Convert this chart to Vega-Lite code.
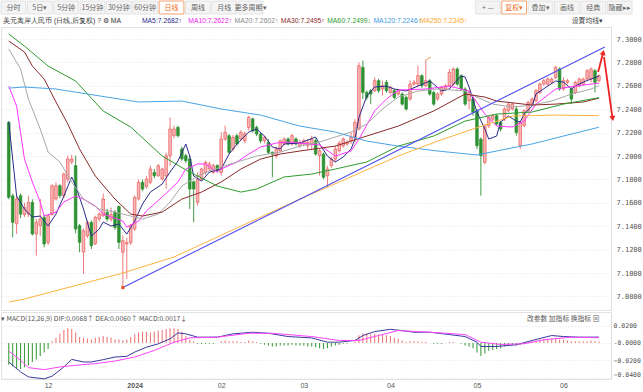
{
"$schema":"https://vega.github.io/schema/vega-lite/v6.json",
"background":"white",
"padding":{"left":0,"top":0,"right":0,"bottom":0},
"spacing":0,
"config":{"view":{"stroke":"#e2e2e2"},"legend":{"disable":true},"title":{"fontWeight":"normal","font":"Noto Sans CJK SC"},"axis":{"labelFont":"DejaVu Sans Mono"}},
"datasets":{
"tb":[{"t":"分时"},{"t":"5日▾"},{"t":"5分钟"},{"t":"15分钟"},{"t":"30分钟"},{"t":"60分钟"},{"t":"日线"},{"t":"周线"},{"t":"月线"},{"t":"更多周期▾"},{"t":"+ —"},{"t":"复权▾"},{"t":"叠加▾"},{"t":"画线"},{"t":"经典"},{"t":"隐藏▸▸"}],
"leg":[{"s":"T","t":"美元离岸人民币 (日线,后复权) ? ⚙ MA"},{"s":"MA5","t":"MA5:7.2682↑"},{"s":"MA10","t":"MA10:7.2622↑"},{"s":"MA20","t":"MA20:7.2602↑"},{"s":"MA30","t":"MA30:7.2495↑"},{"s":"MA60","t":"MA60:7.2499↓"},{"s":"MA120","t":"MA120:7.2246↑"},{"s":"MA250","t":"MA250:7.2345↑"}],
"k":[
{"i":0,"o":7.2288,"h":7.2300,"l":7.1630,"c":7.1647,"m":-0.025},
{"i":1,"o":7.1660,"h":7.1680,"l":7.1305,"c":7.1433,"m":-0.027},
{"i":2,"o":7.1420,"h":7.1661,"l":7.1334,"c":7.1633,"m":-0.029},
{"i":3,"o":7.1661,"h":7.1680,"l":7.1470,"c":7.1504,"m":-0.030},
{"i":4,"o":7.1500,"h":7.1600,"l":7.1480,"c":7.1560,"m":-0.028},
{"i":5,"o":7.1504,"h":7.1661,"l":7.1480,"c":7.1604,"m":-0.026},
{"i":6,"o":7.1604,"h":7.1630,"l":7.1320,"c":7.1334,"m":-0.022},
{"i":7,"o":7.1334,"h":7.1462,"l":7.1148,"c":7.1433,"m":-0.019},
{"i":8,"o":7.1405,"h":7.1633,"l":7.1319,"c":7.1462,"m":-0.015},
{"i":9,"o":7.1476,"h":7.1500,"l":7.1220,"c":7.1248,"m":-0.011},
{"i":10,"o":7.1260,"h":7.1500,"l":7.1240,"c":7.1490,"m":-0.007},
{"i":11,"o":7.1500,"h":7.1760,"l":7.1490,"c":7.1746,"m":0.002},
{"i":12,"o":7.1633,"h":7.1775,"l":7.1620,"c":7.1746,"m":0.006},
{"i":13,"o":7.1746,"h":7.1760,"l":7.1640,"c":7.1661,"m":0.011},
{"i":14,"o":7.1661,"h":7.1860,"l":7.1640,"c":7.1846,"m":0.015},
{"i":15,"o":7.1803,"h":7.2003,"l":7.1775,"c":7.1975,"m":0.017},
{"i":16,"o":7.1950,"h":7.2010,"l":7.1930,"c":7.1975,"m":0.016},
{"i":17,"o":7.1918,"h":7.2003,"l":7.1340,"c":7.1376,"m":0.012},
{"i":18,"o":7.1405,"h":7.1420,"l":7.1177,"c":7.1262,"m":0.007},
{"i":19,"o":7.1180,"h":7.1380,"l":7.0992,"c":7.1362,"m":0.006},
{"i":20,"o":7.1319,"h":7.1450,"l":7.1300,"c":7.1433,"m":0.005},
{"i":21,"o":7.1433,"h":7.1450,"l":7.1205,"c":7.1234,"m":0.004},
{"i":22,"o":7.1250,"h":7.1490,"l":7.1240,"c":7.1476,"m":0.006},
{"i":23,"o":7.1462,"h":7.1520,"l":7.1440,"c":7.1504,"m":0.007},
{"i":24,"o":7.1490,"h":7.1680,"l":7.1480,"c":7.1633,"m":0.008},
{"i":25,"o":7.1519,"h":7.1550,"l":7.1440,"c":7.1462,"m":0.007},
{"i":26,"o":7.1460,"h":7.1560,"l":7.1440,"c":7.1500,"m":0.006},
{"i":27,"o":7.1519,"h":7.1540,"l":7.1370,"c":7.1390,"m":0.004},
{"i":28,"o":7.1570,"h":7.1575,"l":7.1205,"c":7.1262,"m":0.004},
{"i":29,"o":7.1177,"h":7.1320,"l":7.0876,"c":7.1277,"m":0.003},
{"i":30,"o":7.1248,"h":7.1300,"l":7.0950,"c":7.1262,"m":0.004},
{"i":31,"o":7.1262,"h":7.1420,"l":7.1240,"c":7.1405,"m":0.007},
{"i":32,"o":7.1376,"h":7.1661,"l":7.1360,"c":7.1646,"m":0.010},
{"i":33,"o":7.1633,"h":7.1800,"l":7.1620,"c":7.1775,"m":0.012},
{"i":34,"o":7.1775,"h":7.1800,"l":7.1700,"c":7.1718,"m":0.013},
{"i":35,"o":7.1740,"h":7.1830,"l":7.1720,"c":7.1803,"m":0.013},
{"i":36,"o":7.1775,"h":7.1918,"l":7.1760,"c":7.1889,"m":0.012},
{"i":37,"o":7.1860,"h":7.1890,"l":7.1810,"c":7.1832,"m":0.013},
{"i":38,"o":7.1832,"h":7.1930,"l":7.1820,"c":7.1918,"m":0.014},
{"i":39,"o":7.1803,"h":7.1900,"l":7.1790,"c":7.1889,"m":0.015},
{"i":40,"o":7.1830,"h":7.2030,"l":7.1720,"c":7.2003,"m":0.016},
{"i":41,"o":7.2003,"h":7.2330,"l":7.1918,"c":7.2231,"m":0.017},
{"i":42,"o":7.2174,"h":7.2260,"l":7.2150,"c":7.2231,"m":0.017},
{"i":43,"o":7.2245,"h":7.2260,"l":7.2160,"c":7.2174,"m":0.016},
{"i":44,"o":7.2060,"h":7.2080,"l":7.1960,"c":7.1975,"m":0.013},
{"i":45,"o":7.2003,"h":7.2020,"l":7.1940,"c":7.1960,"m":0.008},
{"i":46,"o":7.1975,"h":7.2003,"l":7.1547,"c":7.1718,"m":0.004},
{"i":47,"o":7.1780,"h":7.1790,"l":7.1433,"c":7.1718,"m":0.002},
{"i":48,"o":7.1604,"h":7.1860,"l":7.1575,"c":7.1803,"m":-0.001},
{"i":49,"o":7.1803,"h":7.1900,"l":7.1790,"c":7.1889,"m":-0.001},
{"i":50,"o":7.1860,"h":7.1960,"l":7.1840,"c":7.1946,"m":-0.001},
{"i":51,"o":7.1889,"h":7.1950,"l":7.1870,"c":7.1932,"m":-0.001},
{"i":52,"o":7.1860,"h":7.1935,"l":7.1850,"c":7.1918,"m":-0.001},
{"i":53,"o":7.1918,"h":7.1930,"l":7.1860,"c":7.1880,"m":0.0},
{"i":54,"o":7.1860,"h":7.2203,"l":7.1832,"c":7.2146,"m":0.002},
{"i":55,"o":7.2146,"h":7.2260,"l":7.2130,"c":7.2203,"m":0.003},
{"i":56,"o":7.2174,"h":7.2190,"l":7.2020,"c":7.2031,"m":0.002},
{"i":57,"o":7.2060,"h":7.2180,"l":7.2040,"c":7.2160,"m":0.002},
{"i":58,"o":7.2174,"h":7.2190,"l":7.2090,"c":7.2103,"m":0.002},
{"i":59,"o":7.2146,"h":7.2220,"l":7.2130,"c":7.2203,"m":0.001},
{"i":60,"o":7.2130,"h":7.2210,"l":7.2110,"c":7.2190,"m":0.001},
{"i":61,"o":7.2245,"h":7.2345,"l":7.2217,"c":7.2330,"m":0.003},
{"i":62,"o":7.2317,"h":7.2330,"l":7.2200,"c":7.2217,"m":0.002},
{"i":63,"o":7.2245,"h":7.2260,"l":7.2170,"c":7.2188,"m":0.001},
{"i":64,"o":7.2188,"h":7.2200,"l":7.2110,"c":7.2130,"m":-0.001},
{"i":65,"o":7.2130,"h":7.2175,"l":7.2110,"c":7.2160,"m":-0.002},
{"i":66,"o":7.2117,"h":7.2146,"l":7.2017,"c":7.2031,"m":-0.003},
{"i":67,"o":7.2031,"h":7.2040,"l":7.1818,"c":7.2017,"m":-0.004},
{"i":68,"o":7.2003,"h":7.2080,"l":7.1980,"c":7.2060,"m":-0.004},
{"i":69,"o":7.2045,"h":7.2140,"l":7.2030,"c":7.2130,"m":-0.003},
{"i":70,"o":7.2103,"h":7.2160,"l":7.2090,"c":7.2146,"m":-0.003},
{"i":71,"o":7.2146,"h":7.2160,"l":7.2090,"c":7.2103,"m":-0.003},
{"i":72,"o":7.2103,"h":7.2190,"l":7.2090,"c":7.2174,"m":-0.002},
{"i":73,"o":7.2146,"h":7.2160,"l":7.2090,"c":7.2103,"m":-0.003},
{"i":74,"o":7.2088,"h":7.2140,"l":7.2070,"c":7.2117,"m":-0.003},
{"i":75,"o":7.2103,"h":7.2150,"l":7.2088,"c":7.2130,"m":-0.003},
{"i":76,"o":7.2088,"h":7.2145,"l":7.2060,"c":7.2117,"m":-0.004},
{"i":77,"o":7.2103,"h":7.2174,"l":7.2060,"c":7.2145,"m":-0.004},
{"i":78,"o":7.2131,"h":7.2150,"l":7.2003,"c":7.2017,"m":-0.005},
{"i":79,"o":7.2003,"h":7.2060,"l":7.1832,"c":7.2046,"m":-0.006},
{"i":80,"o":7.2017,"h":7.2030,"l":7.1803,"c":7.1818,"m":-0.007},
{"i":81,"o":7.1832,"h":7.1917,"l":7.1732,"c":7.1889,"m":-0.006},
{"i":82,"o":7.1917,"h":7.1990,"l":7.1900,"c":7.1974,"m":-0.004},
{"i":83,"o":7.1974,"h":7.2088,"l":7.1946,"c":7.2060,"m":-0.003},
{"i":84,"o":7.2046,"h":7.2130,"l":7.2030,"c":7.2110,"m":-0.002},
{"i":85,"o":7.2088,"h":7.2160,"l":7.2070,"c":7.2145,"m":-0.001},
{"i":86,"o":7.2103,"h":7.2135,"l":7.2088,"c":7.2117,"m":-0.001},
{"i":87,"o":7.2131,"h":7.2203,"l":7.2103,"c":7.2160,"m":0.0},
{"i":88,"o":7.2160,"h":7.2316,"l":7.2117,"c":7.2288,"m":0.002},
{"i":89,"o":7.2231,"h":7.2800,"l":7.2217,"c":7.2772,"m":0.009},
{"i":90,"o":7.2758,"h":7.2815,"l":7.2487,"c":7.2544,"m":0.011},
{"i":91,"o":7.2544,"h":7.2560,"l":7.2480,"c":7.2501,"m":0.011},
{"i":92,"o":7.2558,"h":7.2573,"l":7.2444,"c":7.2530,"m":0.010},
{"i":93,"o":7.2558,"h":7.2672,"l":7.2544,"c":7.2644,"m":0.011},
{"i":94,"o":7.2644,"h":7.2660,"l":7.2540,"c":7.2558,"m":0.010},
{"i":95,"o":7.2573,"h":7.2644,"l":7.2516,"c":7.2601,"m":0.010},
{"i":96,"o":7.2630,"h":7.2650,"l":7.2540,"c":7.2558,"m":0.009},
{"i":97,"o":7.2544,"h":7.2600,"l":7.2530,"c":7.2587,"m":0.008},
{"i":98,"o":7.2558,"h":7.2573,"l":7.2487,"c":7.2501,"m":0.006},
{"i":99,"o":7.2530,"h":7.2573,"l":7.2516,"c":7.2558,"m":0.005},
{"i":100,"o":7.2530,"h":7.2545,"l":7.2430,"c":7.2444,"m":0.003},
{"i":101,"o":7.2501,"h":7.2516,"l":7.2388,"c":7.2402,"m":0.001},
{"i":102,"o":7.2487,"h":7.2644,"l":7.2473,"c":7.2615,"m":0.002},
{"i":103,"o":7.2615,"h":7.2650,"l":7.2600,"c":7.2630,"m":0.002},
{"i":104,"o":7.2615,"h":7.2772,"l":7.2587,"c":7.2687,"m":0.002},
{"i":105,"o":7.2687,"h":7.2700,"l":7.2580,"c":7.2601,"m":0.001},
{"i":106,"o":7.2601,"h":7.2821,"l":7.2587,"c":7.2644,"m":0.001},
{"i":107,"o":7.2644,"h":7.2658,"l":7.2516,"c":7.2530,"m":0.0},
{"i":108,"o":7.2544,"h":7.2558,"l":7.2430,"c":7.2444,"m":-0.001},
{"i":109,"o":7.2487,"h":7.2544,"l":7.2473,"c":7.2530,"m":-0.001},
{"i":110,"o":7.2530,"h":7.2601,"l":7.2516,"c":7.2587,"m":-0.001},
{"i":111,"o":7.2573,"h":7.2615,"l":7.2558,"c":7.2601,"m":0.0},
{"i":112,"o":7.2601,"h":7.2744,"l":7.2587,"c":7.2715,"m":0.001},
{"i":113,"o":7.2615,"h":7.2758,"l":7.2601,"c":7.2744,"m":0.001},
{"i":114,"o":7.2744,"h":7.2758,"l":7.2600,"c":7.2615,"m":0.0},
{"i":115,"o":7.2687,"h":7.2700,"l":7.2558,"c":7.2573,"m":-0.001},
{"i":116,"o":7.2573,"h":7.2587,"l":7.2430,"c":7.2444,"m":-0.003},
{"i":117,"o":7.2473,"h":7.2558,"l":7.2402,"c":7.2544,"m":-0.004},
{"i":118,"o":7.2487,"h":7.2500,"l":7.2345,"c":7.2373,"m":-0.006},
{"i":119,"o":7.2388,"h":7.2402,"l":7.2060,"c":7.2088,"m":-0.011},
{"i":120,"o":7.2145,"h":7.2160,"l":7.1661,"c":7.2003,"m":-0.015},
{"i":121,"o":7.1946,"h":7.2274,"l":7.1930,"c":7.2259,"m":-0.012},
{"i":122,"o":7.2259,"h":7.2345,"l":7.2240,"c":7.2331,"m":-0.009},
{"i":123,"o":7.2316,"h":7.2360,"l":7.2300,"c":7.2345,"m":-0.008},
{"i":124,"o":7.2345,"h":7.2360,"l":7.2260,"c":7.2274,"m":-0.007},
{"i":125,"o":7.2288,"h":7.2300,"l":7.2210,"c":7.2231,"m":-0.006},
{"i":126,"o":7.2316,"h":7.2416,"l":7.2300,"c":7.2402,"m":-0.004},
{"i":127,"o":7.2388,"h":7.2460,"l":7.2373,"c":7.2444,"m":-0.003},
{"i":128,"o":7.2402,"h":7.2458,"l":7.2388,"c":7.2444,"m":-0.002},
{"i":129,"o":7.2402,"h":7.2430,"l":7.2174,"c":7.2202,"m":-0.003},
{"i":130,"o":7.2088,"h":7.2302,"l":7.2060,"c":7.2288,"m":-0.002},
{"i":131,"o":7.2259,"h":7.2400,"l":7.2245,"c":7.2388,"m":-0.001},
{"i":132,"o":7.2388,"h":7.2473,"l":7.2373,"c":7.2458,"m":0.001},
{"i":133,"o":7.2444,"h":7.2501,"l":7.2430,"c":7.2487,"m":0.002},
{"i":134,"o":7.2473,"h":7.2573,"l":7.2458,"c":7.2558,"m":0.003},
{"i":135,"o":7.2544,"h":7.2630,"l":7.2530,"c":7.2615,"m":0.004},
{"i":136,"o":7.2615,"h":7.2660,"l":7.2600,"c":7.2644,"m":0.005},
{"i":137,"o":7.2615,"h":7.2672,"l":7.2601,"c":7.2658,"m":0.005},
{"i":138,"o":7.2630,"h":7.2672,"l":7.2615,"c":7.2658,"m":0.005},
{"i":139,"o":7.2672,"h":7.2772,"l":7.2658,"c":7.2758,"m":0.006},
{"i":140,"o":7.2744,"h":7.2758,"l":7.2558,"c":7.2573,"m":0.004},
{"i":141,"o":7.2573,"h":7.2672,"l":7.2558,"c":7.2644,"m":0.004},
{"i":142,"o":7.2630,"h":7.2660,"l":7.2615,"c":7.2644,"m":0.003},
{"i":143,"o":7.2573,"h":7.2587,"l":7.2444,"c":7.2487,"m":0.002},
{"i":144,"o":7.2544,"h":7.2644,"l":7.2530,"c":7.2630,"m":0.002},
{"i":145,"o":7.2601,"h":7.2672,"l":7.2587,"c":7.2658,"m":0.002},
{"i":146,"o":7.2615,"h":7.2672,"l":7.2600,"c":7.2658,"m":0.002},
{"i":147,"o":7.2658,"h":7.2744,"l":7.2644,"c":7.2729,"m":0.002},
{"i":148,"o":7.2658,"h":7.2758,"l":7.2630,"c":7.2744,"m":0.003},
{"i":149,"o":7.2729,"h":7.2744,"l":7.2544,"c":7.2630,"m":0.002},
{"i":150,"o":7.2644,"h":7.2700,"l":7.2630,"c":7.2687,"m":0.0017}
],
"ma":[
{"s":"MA5","i":0,"v":7.2291},{"s":"MA5","i":2,"v":7.1658},{"s":"MA5","i":4,"v":7.1547},{"s":"MA5","i":6,"v":7.1479},{"s":"MA5","i":8,"v":7.1487},{"s":"MA5","i":10,"v":7.1402},{"s":"MA5","i":12,"v":7.1504},{"s":"MA5","i":14,"v":7.1658},{"s":"MA5","i":16,"v":7.1821},{"s":"MA5","i":17,"v":7.1744},{"s":"MA5","i":19,"v":7.1547},{"s":"MA5","i":21,"v":7.1316},{"s":"MA5","i":23,"v":7.1376},{"s":"MA5","i":24,"v":7.1436},{"s":"MA5","i":26,"v":7.1402},{"s":"MA5","i":28,"v":7.1419},{"s":"MA5","i":30,"v":7.1333},{"s":"MA5","i":32,"v":7.1444},{"s":"MA5","i":34,"v":7.159},{"s":"MA5","i":36,"v":7.1692},{"s":"MA5","i":39,"v":7.1761},{"s":"MA5","i":41,"v":7.1863},{"s":"MA5","i":43,"v":7.1957},{"s":"MA5","i":45,"v":7.2103},{"s":"MA5","i":46,"v":7.2},{"s":"MA5","i":47,"v":7.1829},{"s":"MA5","i":49,"v":7.1786},{"s":"MA5","i":51,"v":7.1863},{"s":"MA5","i":54,"v":7.1889},{"s":"MA5","i":56,"v":7.2017},{"s":"MA5","i":58,"v":7.2103},{"s":"MA5","i":61,"v":7.2205},{"s":"MA5","i":63,"v":7.2231},{"s":"MA5","i":65,"v":7.2171},{"s":"MA5","i":67,"v":7.2077},{"s":"MA5","i":69,"v":7.206},{"s":"MA5","i":70,"v":7.2103},{"s":"MA5","i":74,"v":7.2111},{"s":"MA5","i":78,"v":7.2162},{"s":"MA5","i":79,"v":7.2103},{"s":"MA5","i":81,"v":7.2},{"s":"MA5","i":83,"v":7.1949},{"s":"MA5","i":85,"v":7.1991},{"s":"MA5","i":87,"v":7.206},{"s":"MA5","i":88,"v":7.2145},{"s":"MA5","i":89,"v":7.233},{"s":"MA5","i":91,"v":7.2513},{"s":"MA5","i":93,"v":7.259},{"s":"MA5","i":96,"v":7.2598},{"s":"MA5","i":98,"v":7.2573},{"s":"MA5","i":101,"v":7.2556},{"s":"MA5","i":104,"v":7.2598},{"s":"MA5","i":107,"v":7.2641},{"s":"MA5","i":108,"v":7.2615},{"s":"MA5","i":110,"v":7.2556},{"s":"MA5","i":112,"v":7.2573},{"s":"MA5","i":113,"v":7.2615},{"s":"MA5","i":115,"v":7.2684},{"s":"MA5","i":116,"v":7.2675},{"s":"MA5","i":117,"v":7.259},{"s":"MA5","i":119,"v":7.2376},{"s":"MA5","i":121,"v":7.2231},{"s":"MA5","i":122,"v":7.2145},{"s":"MA5","i":124,"v":7.2171},{"s":"MA5","i":125,"v":7.2291},{"s":"MA5","i":127,"v":7.2342},{"s":"MA5","i":129,"v":7.2299},{"s":"MA5","i":130,"v":7.2291},{"s":"MA5","i":131,"v":7.2359},{"s":"MA5","i":133,"v":7.2427},{"s":"MA5","i":134,"v":7.253},{"s":"MA5","i":137,"v":7.2598},{"s":"MA5","i":139,"v":7.2641},{"s":"MA5","i":141,"v":7.2632},{"s":"MA5","i":143,"v":7.2573},{"s":"MA5","i":144,"v":7.2598},{"s":"MA5","i":146,"v":7.2632},{"s":"MA5","i":148,"v":7.2658},{"s":"MA5","i":150,"v":7.2682},
{"s":"MA10","i":0,"v":7.2598},{"s":"MA10","i":2,"v":7.2427},{"s":"MA10","i":4,"v":7.1974},{"s":"MA10","i":6,"v":7.1778},{"s":"MA10","i":8,"v":7.1607},{"s":"MA10","i":9,"v":7.1487},{"s":"MA10","i":12,"v":7.1521},{"s":"MA10","i":14,"v":7.1607},{"s":"MA10","i":17,"v":7.1658},{"s":"MA10","i":19,"v":7.1632},{"s":"MA10","i":22,"v":7.1573},{"s":"MA10","i":24,"v":7.1504},{"s":"MA10","i":29,"v":7.1444},{"s":"MA10","i":30,"v":7.1393},{"s":"MA10","i":33,"v":7.1444},{"s":"MA10","i":35,"v":7.153},{"s":"MA10","i":39,"v":7.165},{"s":"MA10","i":43,"v":7.1778},{"s":"MA10","i":45,"v":7.1889},{"s":"MA10","i":48,"v":7.1932},{"s":"MA10","i":50,"v":7.1932},{"s":"MA10","i":53,"v":7.1863},{"s":"MA10","i":54,"v":7.1889},{"s":"MA10","i":58,"v":7.1949},{"s":"MA10","i":61,"v":7.2017},{"s":"MA10","i":64,"v":7.2077},{"s":"MA10","i":68,"v":7.2111},{"s":"MA10","i":71,"v":7.212},{"s":"MA10","i":74,"v":7.2111},{"s":"MA10","i":79,"v":7.2094},{"s":"MA10","i":83,"v":7.2},{"s":"MA10","i":87,"v":7.2043},{"s":"MA10","i":89,"v":7.2145},{"s":"MA10","i":93,"v":7.2385},{"s":"MA10","i":96,"v":7.2487},{"s":"MA10","i":99,"v":7.2564},{"s":"MA10","i":106,"v":7.2573},{"s":"MA10","i":112,"v":7.2598},{"s":"MA10","i":117,"v":7.2556},{"s":"MA10","i":121,"v":7.2359},{"s":"MA10","i":124,"v":7.2256},{"s":"MA10","i":128,"v":7.2248},{"s":"MA10","i":131,"v":7.2299},{"s":"MA10","i":134,"v":7.2444},{"s":"MA10","i":139,"v":7.2573},{"s":"MA10","i":146,"v":7.2607},{"s":"MA10","i":150,"v":7.2622},
{"s":"MA20","i":0,"v":7.2915},{"s":"MA20","i":3,"v":7.2744},{"s":"MA20","i":5,"v":7.2487},{"s":"MA20","i":8,"v":7.2231},{"s":"MA20","i":10,"v":7.2034},{"s":"MA20","i":13,"v":7.1949},{"s":"MA20","i":16,"v":7.1778},{"s":"MA20","i":19,"v":7.1632},{"s":"MA20","i":23,"v":7.1547},{"s":"MA20","i":27,"v":7.1521},{"s":"MA20","i":31,"v":7.1487},{"s":"MA20","i":34,"v":7.1462},{"s":"MA20","i":38,"v":7.1504},{"s":"MA20","i":41,"v":7.1607},{"s":"MA20","i":44,"v":7.1744},{"s":"MA20","i":48,"v":7.1829},{"s":"MA20","i":51,"v":7.1872},{"s":"MA20","i":54,"v":7.1906},{"s":"MA20","i":58,"v":7.1949},{"s":"MA20","i":63,"v":7.2},{"s":"MA20","i":69,"v":7.2034},{"s":"MA20","i":74,"v":7.2085},{"s":"MA20","i":79,"v":7.212},{"s":"MA20","i":87,"v":7.2205},{"s":"MA20","i":91,"v":7.2274},{"s":"MA20","i":95,"v":7.2402},{"s":"MA20","i":99,"v":7.2504},{"s":"MA20","i":104,"v":7.2556},{"s":"MA20","i":109,"v":7.2573},{"s":"MA20","i":116,"v":7.2556},{"s":"MA20","i":119,"v":7.2504},{"s":"MA20","i":123,"v":7.2444},{"s":"MA20","i":128,"v":7.2419},{"s":"MA20","i":133,"v":7.2436},{"s":"MA20","i":138,"v":7.247},{"s":"MA20","i":143,"v":7.253},{"s":"MA20","i":148,"v":7.2573},{"s":"MA20","i":150,"v":7.2602},
{"s":"MA30","i":0,"v":7.2983},{"s":"MA30","i":4,"v":7.2889},{"s":"MA30","i":6,"v":7.2769},{"s":"MA30","i":9,"v":7.2658},{"s":"MA30","i":12,"v":7.2462},{"s":"MA30","i":15,"v":7.2274},{"s":"MA30","i":18,"v":7.206},{"s":"MA30","i":22,"v":7.1829},{"s":"MA30","i":27,"v":7.1632},{"s":"MA30","i":31,"v":7.1504},{"s":"MA30","i":34,"v":7.1487},{"s":"MA30","i":39,"v":7.1521},{"s":"MA30","i":44,"v":7.1632},{"s":"MA30","i":49,"v":7.1692},{"s":"MA30","i":54,"v":7.1778},{"s":"MA30","i":59,"v":7.1889},{"s":"MA30","i":64,"v":7.1974},{"s":"MA30","i":69,"v":7.2017},{"s":"MA30","i":74,"v":7.2043},{"s":"MA30","i":83,"v":7.2085},{"s":"MA30","i":91,"v":7.2171},{"s":"MA30","i":99,"v":7.2256},{"s":"MA30","i":108,"v":7.2385},{"s":"MA30","i":116,"v":7.253},{"s":"MA30","i":121,"v":7.2504},{"s":"MA30","i":124,"v":7.247},{"s":"MA30","i":133,"v":7.2436},{"s":"MA30","i":139,"v":7.2444},{"s":"MA30","i":146,"v":7.2462},{"s":"MA30","i":150,"v":7.2495},
{"s":"MA60","i":0,"v":7.3043},{"s":"MA60","i":4,"v":7.294},{"s":"MA60","i":10,"v":7.2769},{"s":"MA60","i":17,"v":7.2641},{"s":"MA60","i":24,"v":7.2385},{"s":"MA60","i":31,"v":7.2248},{"s":"MA60","i":39,"v":7.2},{"s":"MA60","i":46,"v":7.1863},{"s":"MA60","i":53,"v":7.1744},{"s":"MA60","i":59,"v":7.1692},{"s":"MA60","i":63,"v":7.1718},{"s":"MA60","i":70,"v":7.1821},{"s":"MA60","i":77,"v":7.1846},{"s":"MA60","i":83,"v":7.1889},{"s":"MA60","i":91,"v":7.1949},{"s":"MA60","i":99,"v":7.2085},{"s":"MA60","i":108,"v":7.2171},{"s":"MA60","i":116,"v":7.2299},{"s":"MA60","i":124,"v":7.2359},{"s":"MA60","i":133,"v":7.2376},{"s":"MA60","i":141,"v":7.2444},{"s":"MA60","i":150,"v":7.2499},
{"s":"MA120","i":0,"v":7.2581},{"s":"MA120","i":4,"v":7.259},{"s":"MA120","i":12,"v":7.2573},{"s":"MA120","i":20,"v":7.253},{"s":"MA120","i":33,"v":7.2462},{"s":"MA120","i":44,"v":7.247},{"s":"MA120","i":54,"v":7.2402},{"s":"MA120","i":64,"v":7.235},{"s":"MA120","i":74,"v":7.2256},{"s":"MA120","i":83,"v":7.2205},{"s":"MA120","i":91,"v":7.2128},{"s":"MA120","i":99,"v":7.2085},{"s":"MA120","i":109,"v":7.2043},{"s":"MA120","i":119,"v":7.2009},{"s":"MA120","i":124,"v":7.2043},{"s":"MA120","i":133,"v":7.2103},{"s":"MA120","i":141,"v":7.2171},{"s":"MA120","i":150,"v":7.2246},
{"s":"MA250","i":0,"v":7.0752},{"s":"MA250","i":4,"v":7.0778},{"s":"MA250","i":29,"v":7.1},{"s":"MA250","i":42,"v":7.1137},{"s":"MA250","i":58,"v":7.1385},{"s":"MA250","i":74,"v":7.1632},{"s":"MA250","i":84,"v":7.1778},{"s":"MA250","i":99,"v":7.2},{"s":"MA250","i":109,"v":7.2128},{"s":"MA250","i":118,"v":7.2231},{"s":"MA250","i":128,"v":7.2342},{"s":"MA250","i":139,"v":7.235},{"s":"MA250","i":150,"v":7.2345}
],
"md":[
{"s":"DIF","i":0,"v":-0.0219},{"s":"DIF","i":3,"v":-0.0333},{"s":"DIF","i":5,"v":-0.0391},{"s":"DIF","i":9,"v":-0.0413},{"s":"DIF","i":11,"v":-0.0383},{"s":"DIF","i":14,"v":-0.0276},{"s":"DIF","i":16,"v":-0.0189},{"s":"DIF","i":19,"v":-0.0219},{"s":"DIF","i":21,"v":-0.0219},{"s":"DIF","i":24,"v":-0.0192},{"s":"DIF","i":27,"v":-0.0162},{"s":"DIF","i":30,"v":-0.0154},{"s":"DIF","i":32,"v":-0.0105},{"s":"DIF","i":35,"v":-0.0048},{"s":"DIF","i":38,"v":-0.001},{"s":"DIF","i":41,"v":0.0048},{"s":"DIF","i":43,"v":0.0116},{"s":"DIF","i":45,"v":0.0105},{"s":"DIF","i":48,"v":0.0067},{"s":"DIF","i":53,"v":0.0067},{"s":"DIF","i":57,"v":0.0105},{"s":"DIF","i":62,"v":0.0124},{"s":"DIF","i":66,"v":0.0112},{"s":"DIF","i":71,"v":0.0074},{"s":"DIF","i":77,"v":0.0059},{"s":"DIF","i":81,"v":0.0009},{"s":"DIF","i":84,"v":0.0009},{"s":"DIF","i":88,"v":0.0029},{"s":"DIF","i":90,"v":0.0086},{"s":"DIF","i":93,"v":0.0131},{"s":"DIF","i":97,"v":0.0158},{"s":"DIF","i":100,"v":0.0143},{"s":"DIF","i":103,"v":0.0124},{"s":"DIF","i":107,"v":0.0124},{"s":"DIF","i":112,"v":0.0097},{"s":"DIF","i":116,"v":0.0074},{"s":"DIF","i":119,"v":0.0009},{"s":"DIF","i":120,"v":-0.004},{"s":"DIF","i":124,"v":-0.004},{"s":"DIF","i":129,"v":-0.0021},{"s":"DIF","i":133,"v":0.0029},{"s":"DIF","i":138,"v":0.0086},{"s":"DIF","i":141,"v":0.0074},{"s":"DIF","i":145,"v":0.0067},{"s":"DIF","i":150,"v":0.0068},
{"s":"DEA","i":0,"v":-0.0093},{"s":"DEA","i":3,"v":-0.02},{"s":"DEA","i":5,"v":-0.0284},{"s":"DEA","i":9,"v":-0.0307},{"s":"DEA","i":13,"v":-0.0276},{"s":"DEA","i":17,"v":-0.0257},{"s":"DEA","i":22,"v":-0.0238},{"s":"DEA","i":27,"v":-0.0208},{"s":"DEA","i":32,"v":-0.0162},{"s":"DEA","i":37,"v":-0.0086},{"s":"DEA","i":42,"v":0.0009},{"s":"DEA","i":46,"v":0.0059},{"s":"DEA","i":53,"v":0.0067},{"s":"DEA","i":61,"v":0.0112},{"s":"DEA","i":67,"v":0.0112},{"s":"DEA","i":77,"v":0.0074},{"s":"DEA","i":84,"v":0.0029},{"s":"DEA","i":89,"v":0.0029},{"s":"DEA","i":94,"v":0.0086},{"s":"DEA","i":99,"v":0.0143},{"s":"DEA","i":107,"v":0.0124},{"s":"DEA","i":116,"v":0.0097},{"s":"DEA","i":120,"v":0.0009},{"s":"DEA","i":125,"v":-0.0017},{"s":"DEA","i":131,"v":-0.0009},{"s":"DEA","i":136,"v":0.0037},{"s":"DEA","i":143,"v":0.0067},{"s":"DEA","i":150,"v":0.006}
]
},
"vconcat":[
{
"width":631,"height":13,"view":{"stroke":null},
"data":{"name":"tb"},
"encoding":{"x":{"field":"t","type":"nominal","scale":{"type":"band","domain":["分时","5日▾","5分钟","15分钟","30分钟","60分钟","日线","周线","月线","更多周期▾","d1","d2","d3","d4","d5","d6","d7","d8","+ —","复权▾","叠加▾","画线","经典","隐藏▸▸"],"paddingInner":0.06,"paddingOuter":0},"axis":null}},
"layer":[
{"mark":{"type":"rect","strokeWidth":0.8},
"encoding":{"fill":{"condition":{"test":"datum.t==='日线'||datum.t==='复权▾'","value":"#ffffff"},"value":"#f4f4f4"},
"stroke":{"condition":{"test":"datum.t==='日线'||datum.t==='复权▾'","value":"#f08a4b"},"value":"#dddddd"}}},
{"mark":{"type":"text","fontSize":7,"font":"Noto Sans CJK SC"},
"encoding":{"text":{"field":"t"},"color":{"condition":{"test":"datum.t==='日线'||datum.t==='复权▾'","value":"#f06a20"},"value":"#666666"}}}
]
},
{
"width":602,"height":11,"view":{"stroke":null},
"layer":[
{"data":{"name":"leg"},
"mark":{"type":"text","align":"left","baseline":"middle","fontSize":6.8,"font":"Liberation Sans","dx":2},
"encoding":{"x":{"field":"s","type":"nominal","bandPosition":0,"scale":{"type":"band","domain":["T","e1","e2","MA5","MA10","MA20","MA30","MA60","MA120","MA250","e3","e4","set"],"paddingInner":0,"paddingOuter":0},"axis":null},
"text":{"field":"t"},
"fill":{"field":"s","type":"nominal","scale":{"domain":["T","MA5","MA10","MA20","MA30","MA60","MA120","MA250"],"range":["#333333","#2b2b8c","#ee22ee","#888888","#8b2a2a","#2e9b2e","#3b9ae1","#ffa82e"]},"legend":null}}},
{"data":{"values":[{"s":"set","t":"设置均线▾"}]},
"mark":{"type":"text","align":"right","baseline":"middle","fontSize":6.8,"font":"Noto Sans CJK SC","color":"#444444"},
"encoding":{"x":{"field":"s","type":"nominal","bandPosition":1,"axis":null},"text":{"field":"t"}}}
]
},
{
"width":610,"height":283,
"resolve":{"axis":{"x":"independent","y":"independent"}},
"layer":[
{"data":{"name":"k"},
"mark":{"type":"rule","strokeWidth":0.9},
"encoding":{"x":{"field":"i","type":"quantitative","scale":{"domain":[-0.7,151.8],"nice":false,"zero":false},"axis":null},
"y":{"field":"l","type":"quantitative","scale":{"domain":[7.0684,7.3103],"nice":false,"zero":false},
"axis":{"orient":"right","values":[7.08,7.1,7.12,7.14,7.16,7.18,7.2,7.22,7.24,7.26,7.28,7.3],"format":".4f","title":null,"ticks":false,"labelOverlap":false,"domainColor":"#dddddd","labelColor":"#555555","labelFontSize":7,"labelPadding":5,"grid":true,"gridColor":"#e4e4e4","gridDash":[1,2]}},
"y2":{"field":"h"},
"color":{"condition":{"test":"datum.c >= datum.o","value":"#ec6b6b"},"value":"#2e9132"}}},
{"data":{"name":"k"},
"mark":{"type":"bar","size":2.6,"strokeWidth":0.7},
"encoding":{"x":{"field":"i","type":"quantitative","axis":null},
"y":{"field":"o","type":"quantitative","axis":null},
"y2":{"field":"c"},
"fill":{"condition":{"test":"datum.c >= datum.o","value":"#f8b7b7"},"value":"#2e9132"},
"stroke":{"condition":{"test":"datum.c >= datum.o","value":"#ea5a5a"},"value":"#2e9132"}}},
{"data":{"name":"ma"},
"mark":{"type":"line","strokeWidth":1,"clip":true},
"encoding":{"x":{"field":"i","type":"quantitative","axis":null},
"y":{"field":"v","type":"quantitative","axis":null},
"color":{"field":"s","type":"nominal","scale":{"domain":["MA5","MA10","MA20","MA30","MA60","MA120","MA250"],"range":["#2b2b8c","#ff33ff","#a8a8a8","#8b2a2a","#2e9b2e","#4aa3e6","#ffb23f"]},"legend":null}}},
{"mark":{"type":"rule","color":"#4b3fd0","strokeWidth":1.2},
"encoding":{"y":{"datum":7.2351,"type":"quantitative","axis":null}}},
{"mark":{"type":"text","align":"left","baseline":"bottom","dy":-1,"fontSize":7,"font":"DejaVu Sans Mono","color":"#4b3fd0"},
"encoding":{"x":{"datum":1.2,"type":"quantitative","axis":null},"y":{"datum":7.2351,"type":"quantitative","axis":null},"text":{"value":"7.2351"}}},
{"data":{"values":[{"i":29,"v":7.0876},{"i":151.5,"v":7.2932}]},
"mark":{"type":"line","color":"#5050ee","strokeWidth":1.1},
"encoding":{"x":{"field":"i","type":"quantitative","axis":null},"y":{"field":"v","type":"quantitative","axis":null}}},
{"data":{"values":[{"i":29,"v":7.0876}]},
"mark":{"type":"square","size":10,"color":"#e8501e","opacity":1,"filled":true},
"encoding":{"x":{"field":"i","type":"quantitative","axis":null},"y":{"field":"v","type":"quantitative","axis":null}}},
{"mark":{"type":"text","align":"left","baseline":"middle","fontSize":7,"font":"DejaVu Sans Mono","color":"#f07a3a"},
"encoding":{"x":{"datum":30.4,"type":"quantitative","axis":null},"y":{"datum":7.0905,"type":"quantitative","axis":null},"text":{"value":"7.0876"}}},
{"data":{"values":[{"i":106,"v":7.2821},{"i":107.3,"v":7.2846}]},
"mark":{"type":"line","color":"#f07a3a","strokeWidth":0.8},
"encoding":{"x":{"field":"i","type":"quantitative","axis":null},"y":{"field":"v","type":"quantitative","axis":null}}},
{"mark":{"type":"text","align":"left","baseline":"middle","fontSize":7,"font":"DejaVu Sans Mono","color":"#f07a3a"},
"encoding":{"x":{"datum":107.6,"type":"quantitative","axis":null},"y":{"datum":7.2849,"type":"quantitative","axis":null},"text":{"value":"7.2821"}}},
{"data":{"values":[{"g":"a","i":149.8,"v":7.2718},{"g":"a","i":151.0,"v":7.2875},{"g":"b","i":151.3,"v":7.2846},{"g":"b","i":153.4,"v":7.2335}]},
"mark":{"type":"line","color":"#ee2222","strokeWidth":1.8,"clip":false},
"encoding":{"x":{"field":"i","type":"quantitative","axis":null},"y":{"field":"v","type":"quantitative","axis":null},"detail":{"field":"g","type":"nominal"}}},
{"data":{"values":[{"i":151.1,"v":7.2885}]},
"mark":{"type":"point","shape":"triangle-up","size":36,"filled":true,"color":"#ee2222","opacity":1,"angle":14,"clip":false},
"encoding":{"x":{"field":"i","type":"quantitative","axis":null},"y":{"field":"v","type":"quantitative","axis":null}}},
{"data":{"values":[{"i":153.5,"v":7.2322}]},
"mark":{"type":"point","shape":"triangle-down","size":36,"filled":true,"color":"#ee2222","opacity":1,"angle":-8,"clip":false},
"encoding":{"x":{"field":"i","type":"quantitative","axis":null},"y":{"field":"v","type":"quantitative","axis":null}}}
]
},
{
"width":610,"height":67,
"resolve":{"axis":{"x":"independent","y":"independent"}},
"title":{"text":"▾ MACD(12,26,9) DIF:0.0068↑ DEA:0.0060↑ MACD:0.0017↓\u3000\u3000\u3000\u3000\u3000\u3000\u3000\u3000\u3000\u3000\u3000\u3000\u3000\u3000\u3000\u3000\u3000\u3000\u3000\u3000\u3000\u3000\u3000\u3000\u3000\u3000\u3000\u3000\u3000\u3000\u3000\u3000\u3000\u3000\u3000\u3000\u3000\u3000\u3000\u3000\u3000\u3000\u3000\u3000\u3000\u3000\u3000\u3000\u3000\u3000改参数 加指标 换指标 ⊠","anchor":"start","orient":"top","offset":-11,"fontSize":6.8,"color":"#555555"},
"layer":[
{"data":{"name":"k"},
"mark":{"type":"bar","size":1.1},
"encoding":{"x":{"field":"i","type":"quantitative","scale":{"domain":[-0.7,151.8],"nice":false,"zero":false},
"axis":{"values":[10,32,54,75,97,119,141],"labelExpr":"datum.value==10?'12':datum.value==32?'2024':datum.value==54?'02':datum.value==75?'03':datum.value==97?'04':datum.value==119?'05':'06'","title":null,"ticks":false,"domain":false,"grid":false,"labelOverlap":false,"labelFontSize":7,"labelColor":"#555555","labelPadding":2,"labelFont":"Liberation Sans","labelFontWeight":{"condition":{"test":"datum.value == 32","value":"bold"},"value":"normal"}}},
"y":{"field":"m","type":"quantitative","scale":{"domain":[-0.0415,0.0357],"nice":false,"zero":false},
"axis":{"orient":"right","values":[0.02,0,-0.02,-0.04],"labelExpr":"datum.value == 0 ? '-0.0000' : format(datum.value, '.4f')","title":null,"ticks":false,"labelOverlap":false,"labelBaseline":{"condition":{"test":"datum.value < -0.03","value":"bottom"},"value":"middle"},"domainColor":"#dddddd","labelColor":"#555555","labelFontSize":6.5,"labelPadding":2,"grid":true,"gridColor":"#e4e4e4","gridDash":[1,2]}},
"color":{"condition":{"test":"datum.m >= 0","value":"#f07b7b"},"value":"#3f9f3f"}}},
{"data":{"name":"md"},
"mark":{"type":"line","strokeWidth":1},
"encoding":{"x":{"field":"i","type":"quantitative","axis":null},"y":{"field":"v","type":"quantitative","axis":null},
"stroke":{"field":"s","type":"nominal","scale":{"domain":["DIF","DEA"],"range":["#3a3a9c","#ff44ff"]},"legend":null}}}
]
}
]
}
